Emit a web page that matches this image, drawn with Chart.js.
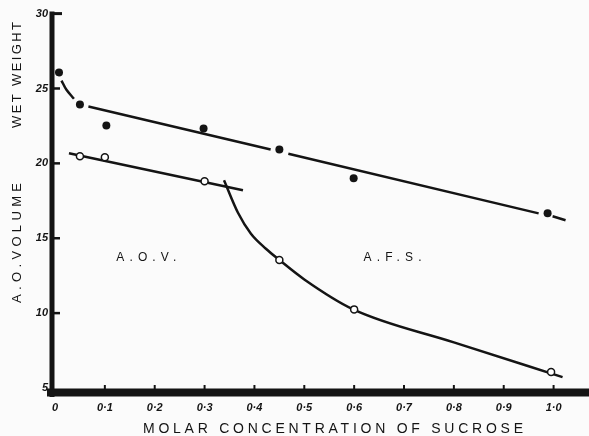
<!DOCTYPE html>
<html><head><meta charset="utf-8">
<script src="https://cdn.jsdelivr.net/npm/chart.js@4/dist/chart.umd.min.js"></script>
<style>html,body{margin:0;padding:0;background:#fbfbfb}canvas{display:block}</style>
</head><body><canvas id="c" width="589" height="436"></canvas>
<script>
// ---- tick labels ----
const xTickValues = [0, 0.1, 0.2, 0.3, 0.4, 0.5, 0.6, 0.7, 0.8, 0.9, 1.0];
const xTickLabels = ['0', '0·1', '0·2', '0·3', '0·4', '0·5', '0·6', '0·7', '0·8', '0·9', '1·0'];
const yTickValues = [5, 10, 15, 20, 25, 30];
const yTickLabels = ['5', '10', '15', '20', '25', '30'];

// ---- wet weight (filled dots) ----
const wetX = [0.008, 0.05, 0.103, 0.298, 0.45, 0.599, 0.988];
const wetY = [26.07, 23.93, 22.53, 22.33, 20.93, 19.0, 16.67];
// fitted line through wet weight, in pieces (gaps round dots)
const wetSeg1X = [0.067, 0.4325];
const wetSeg1Y = [23.8, 20.92];
const wetSeg2X = [0.468, 0.970];
const wetSeg2Y = [20.64, 16.66];
const wetSeg3X = [0.998, 1.024];
const wetSeg3Y = [16.47, 16.2];
// short curved dash at the start
const wetDashX = [0.013, 0.023, 0.038];
const wetDashY = [25.53, 24.91, 24.31];

// ---- A.O. volume, A.O.V. branch (open circles) ----
const aovX = [0.05, 0.1, 0.3];
const aovY = [20.47, 20.4, 18.8];
const aovLineX = [0.028, 0.377];
const aovLineY = [20.67, 18.2];

// ---- A.O. volume, A.F.S. branch (open circles) ----
const afsX = [0.45, 0.6, 0.995];
const afsY = [13.55, 10.25, 6.07];
const afsCurveX = [0.339, 0.367, 0.393, 0.423, 0.45, 0.5, 0.597, 0.8, 1.018];
const afsCurveY = [18.87, 16.7, 15.3, 14.3, 13.55, 12.25, 10.27, 8.05, 5.73];

// ---- text ----
const xTitle = 'MOLAR CONCENTRATION OF SUCROSE';
const yTitleTop = 'WET WEIGHT';
const yTitleBottom = 'A.O.VOLUME';
const regionLabels = ['A.O.V.', 'A.F.S.'];
const regionLabelX = [0.183, 0.677];
const regionLabelY = [13.73, 13.73];

const INK = '#141414';
const BG = '#fbfbfb';

function pts(xs, ys) { return xs.map((x, i) => ({ x: x, y: ys[i] })); }

function spacedText(ctx, text, cx, cy, width, font, rot) {
  ctx.save();
  ctx.font = font;
  ctx.letterSpacing = '0px';
  const w0 = ctx.measureText(text).width;
  const sp = (width - w0) / (text.length - 1);
  ctx.letterSpacing = sp + 'px';
  ctx.translate(cx, cy);
  if (rot) ctx.rotate(rot);
  ctx.textAlign = 'left';
  ctx.textBaseline = 'middle';
  ctx.fillStyle = INK;
  ctx.fillText(text, -width / 2, 0);
  ctx.restore();
}

const framePlugin = {
  id: 'frame',
  beforeDraw(chart) {
    const c = chart.ctx;
    c.save(); c.fillStyle = BG; c.fillRect(0, 0, chart.width, chart.height); c.restore();
  },
  beforeDatasetsDraw(chart) {
    const c = chart.ctx, xs = chart.scales.x, ys = chart.scales.y;
    const a = chart.chartArea;
    c.save();
    c.strokeStyle = INK; c.lineCap = 'butt';
    c.lineWidth = 5;
    c.beginPath(); c.moveTo(a.left - 3, ys.getPixelForValue(30) - 2); c.lineTo(a.left - 3, a.bottom + 9); c.stroke();
    c.lineWidth = 8;
    c.beginPath(); c.moveTo(a.left - 8, a.bottom + 4.5); c.lineTo(chart.width, a.bottom + 4.5); c.stroke();
    yTickValues.forEach(v => {
      if (v === 5) return;
      const py = ys.getPixelForValue(v);
      c.lineWidth = v === 30 ? 3 : 2.5;
      c.beginPath(); c.moveTo(a.left - 1, py); c.lineTo(a.left + (v === 30 ? 7 : 5), py); c.stroke();
    });
    c.lineWidth = 2;
    xTickValues.forEach(v => {
      if (v === 0) return;
      const px = xs.getPixelForValue(v);
      c.beginPath(); c.moveTo(px, a.bottom + 1); c.lineTo(px, a.bottom - 3); c.stroke();
    });
    c.restore();
  },
  afterDraw(chart) {
    const c = chart.ctx, xs = chart.scales.x, ys = chart.scales.y;
    spacedText(c, xTitle, 333, 429, 380, '14px "Liberation Sans"', 0);
    spacedText(c, yTitleTop, 17, 75, 106, '13px "Liberation Sans"', -Math.PI / 2);
    spacedText(c, yTitleBottom, 17, 243, 120, '13px "Liberation Sans"', -Math.PI / 2);
    const widths = [60, 58];
    regionLabels.forEach((t, i) => {
      spacedText(c, t, xs.getPixelForValue(regionLabelX[i]), ys.getPixelForValue(regionLabelY[i]), widths[i], '12px "Liberation Sans"', 0);
    });
  }
};

const lineDs = (data, extra) => Object.assign({
  type: 'line', data: data, borderColor: INK, borderWidth: 2.5, pointRadius: 0,
  fill: false, showLine: true, borderCapStyle: 'butt'
}, extra || {});

new Chart(document.getElementById('c'), {
  type: 'scatter',
  data: {
    datasets: [
      { data: pts(wetX, wetY), pointRadius: 4, pointBackgroundColor: INK, pointBorderColor: INK, pointBorderWidth: 0, showLine: false },
      { data: pts(aovX, aovY), pointRadius: 3.5, pointBackgroundColor: '#ffffff', pointBorderColor: INK, pointBorderWidth: 1.5, showLine: false },
      { data: pts(afsX, afsY), pointRadius: 3.5, pointBackgroundColor: '#ffffff', pointBorderColor: INK, pointBorderWidth: 1.5, showLine: false },
      lineDs(pts(wetSeg1X, wetSeg1Y)),
      lineDs(pts(wetSeg2X, wetSeg2Y)),
      lineDs(pts(wetSeg3X, wetSeg3Y)),
      lineDs(pts(wetDashX, wetDashY), { tension: 0.3 }),
      lineDs(pts(aovLineX, aovLineY)),
      lineDs(pts(afsCurveX, afsCurveY), { cubicInterpolationMode: 'monotone' })
    ]
  },
  options: {
    responsive: false, animation: false, devicePixelRatio: 1,
    layout: { padding: { top: 13, right: 0, left: 0, bottom: 0 } },
    plugins: { legend: { display: false }, tooltip: { enabled: false } },
    scales: {
      x: {
        type: 'linear', min: 0, max: 1.06,
        afterBuildTicks: s => { s.ticks = xTickValues.map(v => ({ value: v })); },
        afterFit: s => { s.height = 48; },
        grid: { display: false, drawTicks: false }, border: { display: false },
        ticks: { callback: (v, i) => xTickLabels[i], color: INK, padding: 13, maxRotation: 0, autoSkip: false,
          font: { family: 'Liberation Sans', size: 11, style: 'italic', weight: 'bold' } }
      },
      y: {
        type: 'linear', min: 5, max: 30,
        afterBuildTicks: s => { s.ticks = yTickValues.map(v => ({ value: v })); },
        afterFit: s => { s.width = 55; },
        grid: { display: false, drawTicks: false }, border: { display: false },
        ticks: { callback: (v, i) => yTickLabels[i], color: INK, padding: 7, autoSkip: false,
          font: { family: 'Liberation Sans', size: 11, style: 'italic', weight: 'bold' } }
      }
    }
  },
  plugins: [framePlugin]
});
</script>
</body></html>
